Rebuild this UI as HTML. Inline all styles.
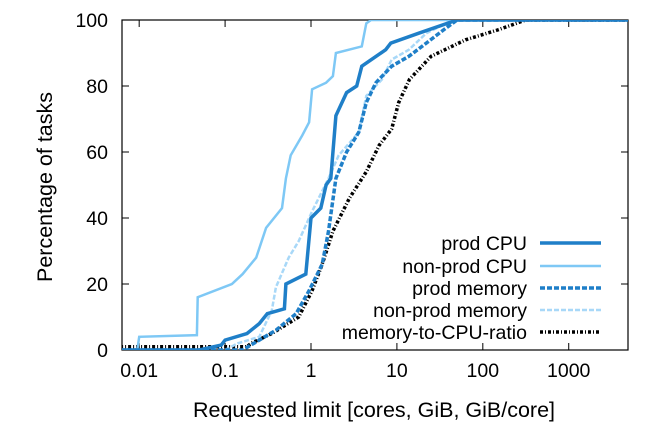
<!DOCTYPE html>
<html><head><meta charset="utf-8"><style>
body{margin:0;background:#fff;}
svg text{font-family:"Liberation Sans",sans-serif;fill:#000;}
</style></head><body>
<svg id="chart" width="650" height="426">
<g id="axes"></g><g id="series"></g><g id="legend"></g>
<text x="374" y="417" font-size="21.5" text-anchor="middle">Requested limit [cores, GiB, GiB/core]</text>
<text transform="translate(52,187) rotate(-90)" font-size="21.5" text-anchor="middle">Percentage of tasks</text>
</svg>
<script>
const xTicks=[0.01,0.1,1,10,100,1000];
const xTickLabels=["0.01","0.1","1","10","100","1000"];
const yTicks=[0,20,40,60,80,100];
const seriesNames=["prod CPU","non-prod CPU","prod memory","non-prod memory","memory-to-CPU-ratio"];
const prodCpuX=[0.006,0.05,0.09,0.1,0.18,0.25,0.31,0.49,0.51,0.87,1.0,1.3,1.5,1.7,1.95,2.6,3.4,3.9,7.4,8.5,18,50,5000];
const prodCpuY=[0,0,1.5,3,5,8,11,12.5,20,23,40,43,50,52,71,78,80,86,91,93,96,100,100];
const nonProdCpuX=[0.006,0.0095,0.01,0.047,0.048,0.12,0.16,0.23,0.3,0.46,0.51,0.58,0.79,0.95,1.03,1.5,1.8,1.95,3.9,4.4,5,5000];
const nonProdCpuY=[0,0,4,4.5,16,20,23,28,37,43,52,59,65,69,79,81,83,90,92,99,100,100];
const prodMemX=[0.006,0.16,0.25,0.39,0.67,0.95,1.35,1.6,1.95,2.6,3.6,4.4,5.7,8.7,13.8,22,35,50,5000];
const prodMemY=[0,0,3,6,11,18,26,36,52,60,66,75,81,86,89,93,97,100,100];
const nonProdMemX=[0.006,0.1,0.14,0.25,0.35,0.39,0.55,0.72,1.03,1.6,2.1,3.6,4.4,6.7,8.7,13.8,22,45,5000];
const nonProdMemY=[0,0,2,4,12,19,28,33,42,52,59,66,77,82,88,91,96,100,100];
const ratioX=[0.006,0.18,0.2,0.35,0.72,1.03,1.35,1.8,2.8,4.4,6.2,8.7,10.5,14,25,63,150,316,5000];
const ratioY=[1,1,2,5,10,18,26,36,46,54,62,67,75,82,89,94,97,100,100];
const ns="http://www.w3.org/2000/svg";
const L=122,R=628,T=20,B=350,lmin=-2.2,lmax=3.69;
function xs(v){return L+(Math.log10(v)-lmin)/(lmax-lmin)*(R-L);}
function ys(v){return B-v/100*(B-T);}
function mk(tag,attrs,parent){const e=document.createElementNS(ns,tag);for(const k in attrs)e.setAttribute(k,attrs[k]);parent.appendChild(e);return e;}
const axes=document.getElementById('axes');
const clip=mk('clipPath',{id:'c'},axes);mk('rect',{x:L,y:T,width:R-L,height:B-T},clip);
xTicks.forEach((t,i)=>{const x=xs(t);
 const a=mk('line',{x1:x,x2:x,y1:B,y2:B-7,stroke:'#000'},axes);
 
 
 mk('line',{x1:x,x2:x,y1:T,y2:T+7,stroke:'#000'},axes);
 const tx=mk('text',{x:x,y:377,'font-size':19.5,'text-anchor':'middle'},axes);tx.textContent=xTickLabels[i];
 
 
});
yTicks.forEach(t=>{const y=ys(t);
 mk('line',{x1:L,x2:L+7,y1:y,y2:y,stroke:'#000'},axes);
 mk('line',{x1:R,x2:R-7,y1:y,y2:y,stroke:'#000'},axes);
 const tx=mk('text',{x:108,y:y+7,'font-size':19.5,'text-anchor':'end'},axes);tx.textContent=t;
 
 
});
const fr=mk('rect',{x:L,y:T,width:R-L,height:B-T,fill:'none',stroke:'#000','stroke-width':1.2},axes);


const styles=[
 {c:'#1f7fc8',w:3.5,d:''},
 {c:'#7ec8f5',w:2.5,d:''},
 {c:'#1f7fc8',w:3.5,d:'5,2'},
 {c:'#a8d8f8',w:2.5,d:'5,2'},
 {c:'#000',w:3.5,d:'3,2,1,2'}];
const data=[[prodCpuX,prodCpuY],[nonProdCpuX,nonProdCpuY],[prodMemX,prodMemY],[nonProdMemX,nonProdMemY],[ratioX,ratioY]];
const sg=document.getElementById('series');
const order=[4,3,2,1,0];
order.forEach(i=>{const [X,Y]=data[i];const s=styles[i];
 const d=X.map((v,j)=>(j?'L':'M')+xs(v).toFixed(1)+','+ys(Y[j]).toFixed(1)).join('');
 const p=mk('path',{d:d,fill:'none',stroke:s.c,'stroke-width':s.w,'stroke-dasharray':s.d,'clip-path':'url(#c)'},sg);
 
 
});
const lg=document.getElementById('legend');
const ly=[243,266,288,310,332];
seriesNames.forEach((n,i)=>{const s=styles[i];
 const g=mk('g',{},lg);
 
 
 const t=mk('text',{x:527,y:ly[i]+7,'font-size':19.5,'text-anchor':'end'},g);t.textContent=n;
 mk('line',{x1:540,x2:601,y1:ly[i],y2:ly[i],stroke:s.c,'stroke-width':s.w,'stroke-dasharray':s.d},g);
});
</script>
</body></html>
